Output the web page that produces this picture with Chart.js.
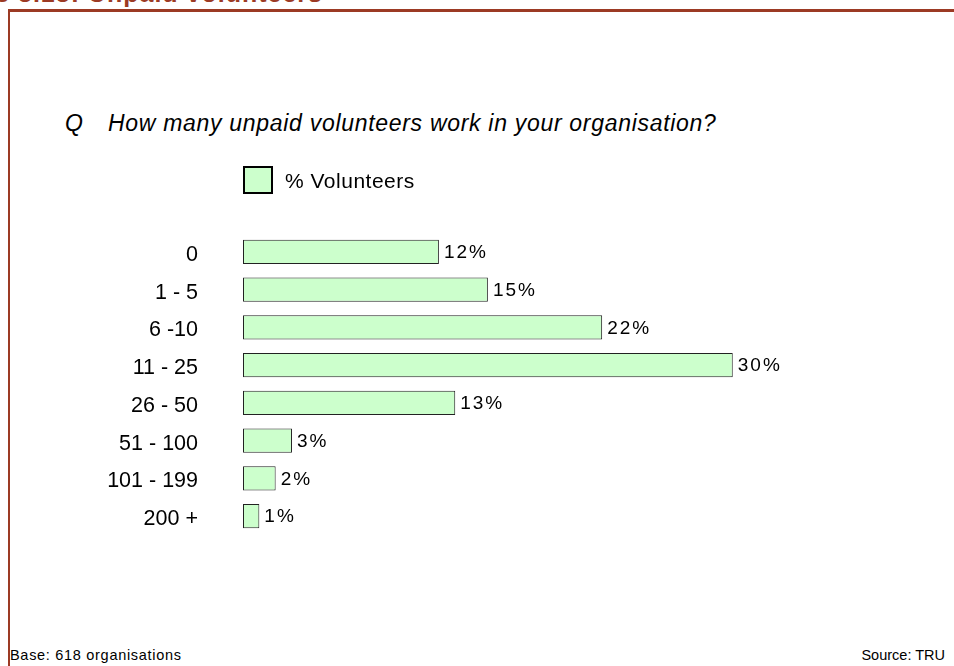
<!DOCTYPE html>
<html>
<head>
<meta charset="utf-8">
<script src="https://cdn.jsdelivr.net/npm/chart.js@4"></script>
<style>
  html, body { margin: 0; padding: 0; background: #fff; }
  body { width: 954px; height: 666px; position: relative; overflow: hidden; font-family: "Liberation Sans", Arial, sans-serif; }
  #frame { position: absolute; left: 8px; top: 9px; width: 960px; height: 700px; border-left: 2px solid #9c3a24; border-top: 3px solid #9c3a24; }
  #title { position: absolute; right: 631px; top: -21px; font-size: 25px; font-weight: bold; color: #9c3a24; white-space: nowrap; line-height: 28px; letter-spacing: 1px; }
  #question { position: absolute; left: 65px; top: 110px; font-size: 23px; font-style: italic; color: #000; white-space: nowrap; }
  #question span { position: absolute; left: 43px; top: 0; letter-spacing: 0.7px; }
  .foot { position: absolute; top: 647px; font-size: 14.5px; color: #000; white-space: nowrap; }
  #base { left: 10px; letter-spacing: 0.7px; }
  #source { right: 9px; }
  #wrap { position: absolute; left: 0; top: 0; width: 954px; height: 666px; }
</style>
</head>
<body>
<div id="frame"></div>
<div id="title">Figure 3.13: Unpaid volunteers</div>
<div id="question">Q<span>How many unpaid volunteers work in your organisation?</span></div>
<div class="foot" id="base">Base: 618 organisations</div>
<div class="foot" id="source">Source: TRU</div>
<div id="wrap"><canvas id="chart"></canvas></div>

<script>
const categories = ['0', '1 - 5', '6 -10', '11 - 25', '26 - 50', '51 - 100', '101 - 199', '200 +'];
const volunteers = [12, 15, 22, 30, 13, 3, 2, 1];
const seriesName = '% Volunteers';

// value labels at the end of each bar
const valueLabels = {
  id: 'valueLabels',
  afterDatasetsDraw(chart) {
    const ctx = chart.ctx;
    const meta = chart.getDatasetMeta(0);
    ctx.save();
    ctx.font = '19px "Liberation Sans", Arial, sans-serif';
    ctx.letterSpacing = '2px';
    ctx.fillStyle = '#000';
    ctx.textBaseline = 'middle';
    ctx.textAlign = 'left';
    meta.data.forEach((bar, i) => {
      ctx.fillText(chart.data.datasets[0].data[i] + '%', bar.x + 5, bar.y + 1);
    });
    ctx.restore();
  }
};

// legend box sits above the plot, lined up with the bars
const boxLegend = {
  id: 'boxLegend',
  afterDraw(chart) {
    const ctx = chart.ctx;
    const ds = chart.data.datasets[0];
    const x = chart.chartArea.left;
    const y = chart.chartArea.top - 67;
    ctx.save();
    ctx.fillStyle = ds.backgroundColor;
    ctx.strokeStyle = '#000';
    ctx.lineWidth = 2;
    ctx.fillRect(x + 1, y + 1, 28, 26);
    ctx.strokeRect(x + 1, y + 1, 28, 26);
    ctx.font = '21px "Liberation Sans", Arial, sans-serif';
    ctx.letterSpacing = '0.5px';
    ctx.fillStyle = '#000';
    ctx.textBaseline = 'middle';
    ctx.fillText(ds.label, x + 42, y + 16);
    ctx.restore();
  }
};

new Chart(document.getElementById('chart'), {
  type: 'bar',
  data: {
    labels: categories,
    datasets: [
      {
        label: seriesName,
        data: volunteers,
        backgroundColor: '#ccffcc',
        borderColor: '#222',
        borderWidth: 1,
        borderSkipped: false,
        categoryPercentage: 1,
        barPercentage: 0.64,
      },
    ],
  },
  options: {
    indexAxis: 'y',
    responsive: true,
    maintainAspectRatio: false,
    animation: false,
    layout: { padding: { top: 233, bottom: 131, right: 58, left: 0 } },
    plugins: {
      legend: { display: false },
      tooltip: { enabled: false },
    },
    scales: {
      x: {
        display: false,
        min: 0,
        max: 40,
      },
      y: {
        grid: { display: false, drawTicks: false },
        border: { display: false },
        ticks: {
          padding: 45,
          labelOffset: 3,
          color: '#000',
          font: { family: '"Liberation Sans", Arial, sans-serif', size: 21.5 },
        },
        afterFit(scale) { scale.width = 243; },
      },
    },
  },
  plugins: [valueLabels, boxLegend],
});
</script>
</body>
</html>
